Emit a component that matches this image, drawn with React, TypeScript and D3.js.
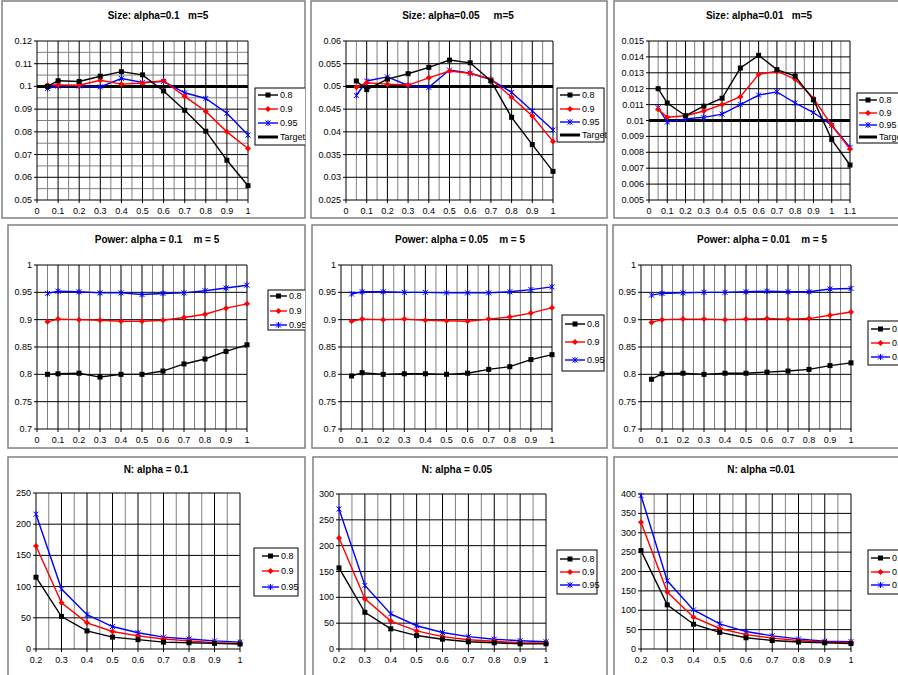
import React from 'react';
import * as d3 from 'd3';

const W = 898;
const H = 675;
const FONT = 'Liberation Sans, Arial, sans-serif';

// x values
const sizeX = [0.05, 0.1, 0.2, 0.3, 0.4, 0.5, 0.6, 0.7, 0.8, 0.9, 1];
const sizeXLong = [0.05, 0.1, 0.2, 0.3, 0.4, 0.5, 0.6, 0.7, 0.8, 0.9, 1, 1.1];
const nX = [0.2, 0.3, 0.4, 0.5, 0.6, 0.7, 0.8, 0.9, 1];

const seriesNames = ['0.8', '0.9', '0.95'];
const targetName = 'Target';

// Size
const s10_80 = [0.1, 0.1025, 0.1022, 0.1045, 0.1065, 0.1051, 0.098, 0.0895, 0.0803, 0.0675, 0.0563];
const s10_90 = [0.1006, 0.1006, 0.1005, 0.1027, 0.101, 0.1015, 0.1025, 0.0956, 0.089, 0.08, 0.0727];
const s10_95 = [0.0991, 0.1002, 0.1002, 0.0998, 0.1035, 0.1018, 0.1022, 0.0972, 0.0947, 0.0882, 0.0786];
const s05_80 = [0.0512, 0.0493, 0.0516, 0.0528, 0.0542, 0.0558, 0.0552, 0.0512, 0.0432, 0.0372, 0.0313];
const s05_90 = [0.0498, 0.0508, 0.0505, 0.0503, 0.0519, 0.0534, 0.0529, 0.0516, 0.0476, 0.0435, 0.0379];
const s05_95 = [0.048, 0.0512, 0.0521, 0.0502, 0.0498, 0.0536, 0.0529, 0.0515, 0.0487, 0.0446, 0.0404];
const s01_80 = [0.012, 0.0111, 0.0103, 0.0109, 0.0114, 0.0133, 0.0141, 0.0132, 0.0128, 0.0113, 0.0088, 0.0072];
const s01_90 = [0.0107, 0.0102, 0.0103, 0.0106, 0.011, 0.0115, 0.0129, 0.0131, 0.0126, 0.0114, 0.0097, 0.0082];
const s01_95 = [0.0108, 0.0099, 0.0101, 0.0102, 0.0104, 0.011, 0.0116, 0.0118, 0.0111, 0.0105, 0.0097, 0.0083];
const targetX = [0, 1];
const targetXLong = [0, 1.1];
const target10 = [0.1, 0.1];
const target05 = [0.05, 0.05];
const target01 = [0.01, 0.01];

// Power
const p10_80 = [0.8, 0.801, 0.802, 0.795, 0.8, 0.8, 0.806, 0.819, 0.828, 0.842, 0.854];
const p10_90 = [0.896, 0.901, 0.9, 0.899, 0.897, 0.897, 0.899, 0.904, 0.91, 0.921, 0.929];
const p10_95 = [0.948, 0.952, 0.951, 0.949, 0.949, 0.946, 0.948, 0.949, 0.953, 0.958, 0.963];
const p05_80 = [0.797, 0.803, 0.8, 0.801, 0.801, 0.8, 0.802, 0.809, 0.814, 0.827, 0.836];
const p05_90 = [0.897, 0.901, 0.9, 0.901, 0.899, 0.898, 0.897, 0.901, 0.905, 0.912, 0.922];
const p05_95 = [0.947, 0.951, 0.951, 0.95, 0.95, 0.949, 0.949, 0.949, 0.951, 0.955, 0.96];
const p01_80 = [0.791, 0.801, 0.802, 0.8, 0.802, 0.802, 0.804, 0.806, 0.809, 0.816, 0.821];
const p01_90 = [0.895, 0.9, 0.901, 0.901, 0.9, 0.901, 0.902, 0.901, 0.902, 0.908, 0.914];
const p01_95 = [0.945, 0.948, 0.949, 0.95, 0.95, 0.951, 0.952, 0.951, 0.951, 0.956, 0.957];

// N
const n10_80 = [115, 52, 29, 19, 15, 11, 10, 9, 8];
const n10_90 = [165, 74, 42, 28, 21, 16, 13, 10, 9];
const n10_95 = [216, 96, 55, 36, 26, 19, 16, 13, 11];
const n05_80 = [157, 71, 39, 26, 19, 14, 12, 10, 10];
const n05_90 = [215, 97, 54, 35, 24, 18, 15, 12, 11];
const n05_95 = [271, 123, 68, 45, 32, 24, 19, 16, 14];
const n01_80 = [254, 114, 64, 43, 29, 22, 18, 16, 14];
const n01_90 = [327, 147, 82, 53, 37, 28, 22, 18, 16];
const n01_95 = [396, 176, 101, 65, 45, 34, 26, 20, 19];

// ticks
const ticksX = [0, 0.1, 0.2, 0.3, 0.4, 0.5, 0.6, 0.7, 0.8, 0.9, 1];
const ticksXLong = [0, 0.1, 0.2, 0.3, 0.4, 0.5, 0.6, 0.7, 0.8, 0.9, 1, 1.1];
const ticksXN = [0.2, 0.3, 0.4, 0.5, 0.6, 0.7, 0.8, 0.9, 1];
const ticksSize10 = [0.05, 0.06, 0.07, 0.08, 0.09, 0.1, 0.11, 0.12];
const ticksSize05 = [0.025, 0.03, 0.035, 0.04, 0.045, 0.05, 0.055, 0.06];
const ticksSize01 = [0.005, 0.006, 0.007, 0.008, 0.009, 0.01, 0.011, 0.012, 0.013, 0.014, 0.015];
const ticksPower = [0.7, 0.75, 0.8, 0.85, 0.9, 0.95, 1];
const ticksN10 = [0, 50, 100, 150, 200, 250];
const ticksN05 = [0, 50, 100, 150, 200, 250, 300];
const ticksN01 = [0, 50, 100, 150, 200, 250, 300, 350, 400];

const colors = ['#000000', '#ff0000', '#0000ff'];
const markers = ['square', 'diamond', 'star'];

type Series = { name: string; xs: number[]; ys: number[]; color: string; marker: string; width: number };

function mk(xs: number[], a: number[], b: number[], c: number[], tx?: number[], ty?: number[]): Series[] {
  const out: Series[] = [a, b, c].map((ys, i) => ({
    name: seriesNames[i], xs, ys, color: colors[i], marker: markers[i], width: 1.4,
  }));
  if (tx && ty) out.push({ name: targetName, xs: tx, ys: ty, color: '#000', marker: 'none', width: 3 });
  return out;
}

const fmt = (v: number) => String(+v.toFixed(4));

function Marker({ type, x, y, color }: { type: string; x: number; y: number; color: string }) {
  if (type === 'square') return <rect x={x - 2.5} y={y - 2.5} width={5} height={5} fill={color} />;
  if (type === 'diamond') return <path d={`M${x},${y - 3}L${x + 3},${y}L${x},${y + 3}L${x - 3},${y}Z`} fill={color} />;
  if (type === 'star')
    return (
      <path
        d={`M${x - 2.5},${y - 2.5}L${x + 2.5},${y + 2.5}M${x - 2.5},${y + 2.5}L${x + 2.5},${y - 2.5}M${x},${y - 3}L${x},${y + 3}`}
        stroke={color}
        strokeWidth={1}
        fill="none"
      />
    );
  return null;
}

function mids(t: number[]) {
  return t.slice(1).map((v, i) => (v + t[i]) / 2);
}

function Panel({ cfg, id }: { cfg: any; id: string }) {
  const { frame, plot, title, titleX, titleY, xDomain, yDomain, xTicks, yTicks, minorY, series, legend } = cfg;
  const x = d3.scaleLinear().domain(xDomain).range([plot.x0, plot.x1]);
  const y = d3.scaleLinear().domain(yDomain).range([plot.y1, plot.y0]);
  const line = d3.line<[number, number]>().x(d => x(d[0])).y(d => y(d[1]));
  const vMinor = mids(xTicks);
  const hMinor = minorY ? mids(yTicks) : [];
  const lg = legend;
  return (
    <g>
      <defs>
        <clipPath id={id}>
          <rect x={frame.x} y={frame.y} width={frame.w} height={frame.h} />
        </clipPath>
      </defs>
      <rect x={frame.x} y={frame.y} width={frame.w} height={frame.h} fill="#fff" stroke="#808080" strokeWidth={1.5} />
      <g clipPath={`url(#${id})`}>
        <text x={titleX} y={titleY} textAnchor="middle" fontFamily={FONT} fontSize={10} fontWeight="bold" style={{ whiteSpace: 'pre' }}>
          {title}
        </text>
        {vMinor.map((v: number, i: number) => (
          <line key={'vm' + i} x1={x(v)} x2={x(v)} y1={plot.y0} y2={plot.y1} stroke="#808080" />
        ))}
        {hMinor.map((v: number, i: number) => (
          <line key={'hm' + i} x1={plot.x0} x2={plot.x1} y1={y(v)} y2={y(v)} stroke="#808080" />
        ))}
        {xTicks.map((v: number, i: number) => (
          <line key={'vg' + i} x1={x(v)} x2={x(v)} y1={plot.y0} y2={plot.y1 + 3} stroke="#000" />
        ))}
        {yTicks.map((v: number, i: number) => (
          <line key={'hg' + i} x1={plot.x0 - 3} x2={plot.x1} y1={y(v)} y2={y(v)} stroke="#000" />
        ))}
        {xTicks.map((v: number, i: number) => (
          <text key={'xl' + i} x={x(v)} y={plot.y1 + 14} textAnchor="middle" fontFamily={FONT} fontSize={9}>
            {fmt(v)}
          </text>
        ))}
        {yTicks.map((v: number, i: number) => (
          <text key={'yl' + i} x={plot.x0 - 5} y={y(v) + 3} textAnchor="end" fontFamily={FONT} fontSize={9}>
            {fmt(v)}
          </text>
        ))}
        {series
          .slice()
          .reverse()
          .map((s: Series, i: number) => (
            <g key={'s' + i}>
              <path
                d={line(s.xs.map((xv, j) => [xv, s.ys[j]] as [number, number])) || ''}
                fill="none"
                stroke={s.color}
                strokeWidth={s.width}
              />
              {s.marker !== 'none' &&
                s.xs.map((xv, j) => <Marker key={j} type={s.marker} x={x(xv)} y={y(s.ys[j])} color={s.color} />)}
            </g>
          ))}
        <rect x={lg.x} y={lg.y} width={lg.w} height={lg.h} fill="#fff" stroke="#000" />
        {series.map((s: Series, i: number) => (
          <g key={'l' + i}>
            <line x1={lg.sx0} x2={lg.sx1} y1={lg.rows[i]} y2={lg.rows[i]} stroke={s.color} strokeWidth={s.width} />
            {s.marker !== 'none' && <Marker type={s.marker} x={(lg.sx0 + lg.sx1) / 2} y={lg.rows[i]} color={s.color} />}
            <text x={lg.sx1 + 2} y={lg.rows[i] + 3} fontFamily={FONT} fontSize={9}>
              {s.name}
            </text>
          </g>
        ))}
      </g>
    </g>
  );
}

const panels = [
  {
    frame: { x: 2, y: 1, w: 303, h: 217 },
    plot: { x0: 37, x1: 248, y0: 41, y1: 200 },
    title: 'Size: alpha=0.1   m=5', titleX: 158, titleY: 19,
    xDomain: [0, 1], yDomain: [0.05, 0.12], xTicks: ticksX, yTicks: ticksSize10, minorY: true,
    series: mk(sizeX, s10_80, s10_90, s10_95, targetX, target10),
    legend: { x: 255, y: 88, w: 60, h: 57, rows: [95, 109, 123, 137], sx0: 258, sx1: 278 },
  },
  {
    frame: { x: 311, y: 1, w: 296, h: 217 },
    plot: { x0: 346, x1: 553, y0: 41, y1: 200 },
    title: 'Size: alpha=0.05     m=5', titleX: 458, titleY: 19,
    xDomain: [0, 1], yDomain: [0.025, 0.06], xTicks: ticksX, yTicks: ticksSize05, minorY: false,
    series: mk(sizeX, s05_80, s05_90, s05_95, targetX, target05),
    legend: { x: 557, y: 88, w: 47, h: 54, rows: [95, 109, 122, 135], sx0: 560, sx1: 580 },
  },
  {
    frame: { x: 614, y: 1, w: 300, h: 217 },
    plot: { x0: 649, x1: 850, y0: 41, y1: 200 },
    title: 'Size: alpha=0.01   m=5', titleX: 759, titleY: 19,
    xDomain: [0, 1.1], yDomain: [0.005, 0.015], xTicks: ticksXLong, yTicks: ticksSize01, minorY: false,
    series: mk(sizeXLong, s01_80, s01_90, s01_95, targetXLong, target01),
    legend: { x: 857, y: 93, w: 60, h: 50, rows: [100, 113, 125, 137], sx0: 859, sx1: 877 },
  },
  {
    frame: { x: 8, y: 225, w: 297, h: 223 },
    plot: { x0: 37, x1: 247, y0: 265, y1: 429 },
    title: 'Power: alpha = 0.1    m = 5', titleX: 157, titleY: 243,
    xDomain: [0, 1], yDomain: [0.7, 1], xTicks: ticksX, yTicks: ticksPower, minorY: false,
    series: mk(sizeX, p10_80, p10_90, p10_95),
    legend: { x: 268, y: 290, w: 45, h: 40, rows: [296, 311, 325], sx0: 270, sx1: 287 },
  },
  {
    frame: { x: 312, y: 225, w: 295, h: 223 },
    plot: { x0: 341, x1: 552, y0: 265, y1: 429 },
    title: 'Power: alpha = 0.05    m = 5', titleX: 460, titleY: 243,
    xDomain: [0, 1], yDomain: [0.7, 1], xTicks: ticksX, yTicks: ticksPower, minorY: false,
    series: mk(sizeX, p05_80, p05_90, p05_95),
    legend: { x: 562, y: 315, w: 42, h: 56, rows: [324, 342, 360], sx0: 565, sx1: 585 },
  },
  {
    frame: { x: 613, y: 225, w: 300, h: 223 },
    plot: { x0: 641, x1: 851, y0: 265, y1: 429 },
    title: 'Power: alpha = 0.01    m = 5', titleX: 762, titleY: 243,
    xDomain: [0, 1], yDomain: [0.7, 1], xTicks: ticksX, yTicks: ticksPower, minorY: false,
    series: mk(sizeX, p01_80, p01_90, p01_95),
    legend: { x: 868, y: 321, w: 45, h: 44, rows: [329, 343, 357], sx0: 871, sx1: 890 },
  },
  {
    frame: { x: 8, y: 457, w: 297, h: 230 },
    plot: { x0: 36, x1: 240, y0: 493, y1: 649 },
    title: 'N: alpha = 0.1', titleX: 156, titleY: 473,
    xDomain: [0.2, 1], yDomain: [0, 250], xTicks: ticksXN, yTicks: ticksN10, minorY: false,
    series: mk(nX, n10_80, n10_90, n10_95),
    legend: { x: 254, y: 548, w: 44, h: 48, rows: [556, 571, 587], sx0: 262, sx1: 279 },
  },
  {
    frame: { x: 313, y: 457, w: 294, h: 230 },
    plot: { x0: 339, x1: 546, y0: 494, y1: 649 },
    title: 'N: alpha = 0.05', titleX: 457, titleY: 473,
    xDomain: [0.2, 1], yDomain: [0, 300], xTicks: ticksXN, yTicks: ticksN05, minorY: false,
    series: mk(nX, n05_80, n05_90, n05_95),
    legend: { x: 557, y: 550, w: 40, h: 44, rows: [559, 572, 585], sx0: 560, sx1: 580 },
  },
  {
    frame: { x: 614, y: 457, w: 300, h: 230 },
    plot: { x0: 641, x1: 851, y0: 494, y1: 649 },
    title: 'N: alpha =0.01', titleX: 761, titleY: 473,
    xDomain: [0.2, 1], yDomain: [0, 400], xTicks: ticksXN, yTicks: ticksN01, minorY: false,
    series: mk(nX, n01_80, n01_90, n01_95),
    legend: { x: 868, y: 550, w: 45, h: 44, rows: [558, 572, 585], sx0: 871, sx1: 890 },
  },
];

export default function App() {
  return (
    <svg width={W} height={H} style={{ position: 'absolute', left: 0, top: 0, background: '#fff' }}>
      <rect x={0} y={0} width={W} height={H} fill="#fff" />
      {panels.map((p, i) => (
        <Panel key={i} cfg={p} id={'clip' + i} />
      ))}
    </svg>
  );
}
